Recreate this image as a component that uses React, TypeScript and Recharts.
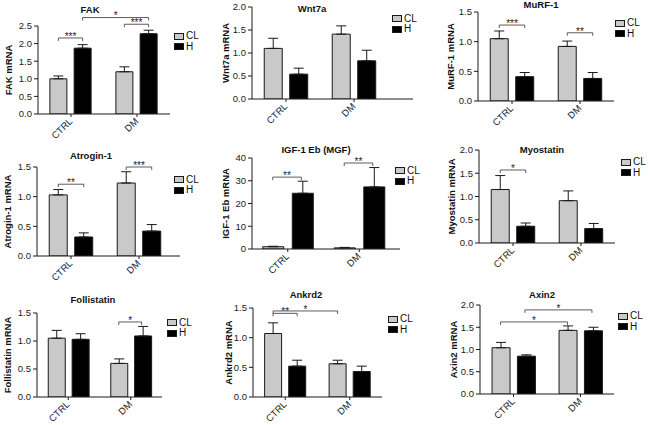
import React from 'react';
import { BarChart, Bar, XAxis, YAxis, ErrorBar, ReferenceLine, Legend } from 'recharts';

// ---------- data ----------
const categories = ['CTRL', 'DM'];

const fakCL = [1.0, 1.2];
const fakCLErr = [0.08, 0.14];
const fakH = [1.87, 2.28];
const fakHErr = [0.1, 0.1];
const fakTicks = [0, 0.5, 1.0, 1.5, 2.0, 2.5];

const wntCL = [1.1, 1.41];
const wntCLErr = [0.22, 0.18];
const wntH = [0.54, 0.83];
const wntHErr = [0.13, 0.23];
const wntTicks = [0, 0.5, 1.0, 1.5, 2.0];

const murfCL = [1.05, 0.92];
const murfCLErr = [0.13, 0.09];
const murfH = [0.41, 0.38];
const murfHErr = [0.07, 0.1];
const murfTicks = [0, 0.5, 1.0, 1.5];

const atroCL = [1.03, 1.23];
const atroCLErr = [0.09, 0.19];
const atroH = [0.32, 0.42];
const atroHErr = [0.07, 0.11];
const atroTicks = [0, 0.5, 1.0, 1.5];

const igfCL = [1.0, 0.5];
const igfCLErr = [0.2, 0.2];
const igfH = [24.5, 27.3];
const igfHErr = [5.3, 8.5];
const igfTicks = [0, 10, 20, 30, 40];

const myoCL = [1.15, 0.91];
const myoCLErr = [0.3, 0.21];
const myoH = [0.36, 0.31];
const myoHErr = [0.07, 0.11];
const myoTicks = [0, 0.5, 1.0, 1.5, 2.0];

const folCL = [1.05, 0.6];
const folCLErr = [0.14, 0.08];
const folH = [1.03, 1.09];
const folHErr = [0.1, 0.17];
const folTicks = [0, 0.5, 1.0, 1.5];

const ankCL = [1.07, 0.56];
const ankCLErr = [0.18, 0.06];
const ankH = [0.52, 0.43];
const ankHErr = [0.1, 0.09];
const ankTicks = [0, 0.5, 1.0, 1.5];

const axCL = [1.04, 1.43];
const axCLErr = [0.12, 0.1];
const axH = [0.85, 1.42];
const axHErr = [0.03, 0.08];
const axTicks = [0, 0.5, 1.0, 1.5, 2.0];

// significance brackets: [category, series(0=CL,1=H)] -> [category, series], level, label
const fakSig = [
  { a: [0, 0], b: [0, 1], y: 2.16, label: '***' },
  { a: [1, 0], b: [1, 1], y: 2.55, label: '***' },
  { a: [0, 1], b: [1, 1], y: 2.74, label: '*' },
];
const murfSig = [
  { a: [0, 0], b: [0, 1], y: 1.28, label: '***' },
  { a: [1, 0], b: [1, 1], y: 1.15, label: '**' },
];
const atroSig = [
  { a: [0, 0], b: [0, 1], y: 1.21, label: '**' },
  { a: [1, 0], b: [1, 1], y: 1.5, label: '***' },
];
const igfSig = [
  { a: [0, 0], b: [0, 1], y: 31.6, label: '**' },
  { a: [1, 0], b: [1, 1], y: 37.8, label: '**' },
];
const myoSig = [{ a: [0, 0], b: [0, 1], y: 1.57, label: '*' }];
const folSig = [{ a: [1, 0], b: [1, 1], y: 1.34, label: '*' }];
const ankSig = [
  { a: [0, 0], b: [0, 1], y: 1.41, label: '**' },
  { a: [0, 0], b: [1, 0], y: 1.45, label: '*' },
];
const axSig = [
  { a: [0, 0], b: [1, 0], y: 1.62, label: '*' },
  { a: [0, 1], b: [1, 1], y: 1.89, label: '*' },
];

// ---------- styles ----------
const FONT = '"Liberation Sans", Arial, sans-serif';
const CL_FILL = '#c9c9c9';
const H_FILL = '#000000';
const EDGE = '#1a1a1a';
const YW = 40, TOPM = 26, XH = 34, RM = 50;

const CatTick = (props: any) => {
  const { x, y, payload } = props;
  const ax = x + 2;
  const ay = y + 3;
  return (
    <text x={ax} y={ay} transform={`rotate(-45 ${ax} ${ay})`} textAnchor="end" fontFamily={FONT} fontSize={9.5} fill="#222">
      {payload.value}
    </text>
  );
};

const YLabel = (props: any) => {
  const { text, dist, plotH } = props;
  const cx = YW - dist + 3.5;
  const cy = TOPM + plotH / 2;
  return (
    <text x={cx} y={cy} transform={`rotate(-90 ${cx} ${cy})`} textAnchor="middle" fontFamily={FONT} fontWeight="bold" fontSize={9.5} fill="#111">
      {text}
    </text>
  );
};

const LegendContent = (props: any) => {
  const items = props.payload || [];
  return (
    <div style={{ fontFamily: FONT, fontSize: 10, color: '#111' }}>
      {items.map((e: any) => (
        <div key={e.value} style={{ display: 'flex', alignItems: 'center', height: 10.5, lineHeight: '10px' }}>
          <span style={{ display: 'inline-block', width: 8, height: 5, background: e.color, border: `1px solid ${EDGE}`, marginRight: 2 }} />
          <span>{e.value}</span>
        </div>
      ))}
    </div>
  );
};

const Panel = (props: any) => {
  const { title, yLabel, cl, clErr, h, hErr, ticks, sig, layout: L } = props;
  const cg = L.cg ?? 0.18;
  const gap = L.gap ?? 0.11;
  const padRight = L.padRight ?? 0;
  const chartLeft = L.plotLeft - YW;
  const chartTop = L.plotTop - TOPM;
  const width = L.plotRight - chartLeft + RM;
  const height = L.plotBottom - chartTop + XH;
  const plotH = L.plotBottom - L.plotTop;
  const data = categories.map((c, i) => ({
    cat: c,
    cl: cl[i],
    h: h[i],
    clE: [0, clErr[i]],
    hE: [0, hErr[i]],
  }));
  const top = ticks[ticks.length - 1];
  const tickDrop = 3;
  // bar centre offset from band centre, following the grouped-bar layout
  const barOffset = (band: number, si: number) => {
    const off = band * cg;
    const g = band * gap;
    let size = (band - 2 * off - g) / 2;
    if (size > 1) size = Math.floor(size);
    const c0 = off + size / 2 - band / 2;
    const c1 = off + size + g + size / 2 - band / 2;
    return si === 0 ? c0 : c1;
  };
  return (
    <>
      <div style={{ position: 'absolute', left: L.titleX, top: L.titleY, transform: 'translate(-50%, -50%)', fontFamily: FONT, fontWeight: 'bold', fontSize: 9.5, lineHeight: '10px', whiteSpace: 'nowrap', color: '#111' }}>
        {title}
      </div>
      <div style={{ position: 'absolute', left: chartLeft, top: chartTop }}>
        <BarChart
          width={width}
          height={height}
          data={data}
          margin={{ top: TOPM, right: RM, bottom: 0, left: 0 }}
          barCategoryGap={`${cg * 100}%`}
          barGap={`${gap * 100}%`}
        >
          <XAxis
            dataKey="cat"
            height={XH}
            interval={0}
            padding={{ left: 0, right: padRight }}
            tick={<CatTick />}
            tickSize={3}
            tickMargin={2}
            axisLine={{ stroke: EDGE, strokeWidth: 1 }}
            tickLine={{ stroke: EDGE, strokeWidth: 1 }}
          />
          <YAxis
            width={YW}
            domain={[0, top]}
            ticks={ticks}
            interval={0}
            allowDataOverflow
            tickFormatter={(v: number) => v.toFixed(L.decimals)}
            tick={{ fontFamily: FONT, fontSize: 9.5, fill: '#222' }}
            tickSize={4}
            tickMargin={2}
            axisLine={{ stroke: EDGE, strokeWidth: 1 }}
            tickLine={{ stroke: EDGE, strokeWidth: 1 }}
            label={<YLabel text={yLabel} dist={L.labelDist} plotH={plotH} />}
          />
          <Bar dataKey="cl" name="CL" fill={CL_FILL} stroke={EDGE} strokeWidth={1} isAnimationActive={false}>
            <ErrorBar dataKey="clE" width={5} stroke={EDGE} strokeWidth={1} direction="y" />
          </Bar>
          <Bar dataKey="h" name="H" fill={H_FILL} stroke={EDGE} strokeWidth={1} isAnimationActive={false}>
            <ErrorBar dataKey="hE" width={5} stroke={EDGE} strokeWidth={1} direction="y" />
          </Bar>
          {sig.map((b: any, i: number) => (
            <ReferenceLine
              key={i}
              ifOverflow="visible"
              segment={[{ x: categories[0], y: b.y }, { x: categories[1], y: b.y }]}
              shape={(p: any) => {
                const c0 = p.x1, c1 = p.x2, y = p.y1;
                const band = c1 - c0;
                const centres = [c0, c1];
                const xa = centres[b.a[0]] + barOffset(band, b.a[1]);
                const xb = centres[b.b[0]] + barOffset(band, b.b[1]);
                return (
                  <g>
                    <path d={`M${xa},${y + tickDrop}L${xa},${y}L${xb},${y}L${xb},${y + tickDrop}`} stroke="#4a4a4a" strokeWidth={0.9} fill="none" />
                    <text x={(xa + xb) / 2} y={y + 1.8} textAnchor="middle" fontFamily={FONT} fontSize={10} fill="#222">{b.label}</text>
                  </g>
                );
              }}
            />
          ))}
          <Legend
            layout="vertical"
            align="center"
            verticalAlign="middle"
            wrapperStyle={{ left: L.legendX - chartLeft, top: L.legendY - chartTop - 5, width: 'auto', height: 'auto' }}
            content={<LegendContent />}
          />
        </BarChart>
      </div>
    </>
  );
};

const panels = [
  { title: 'FAK', yLabel: 'FAK mRNA', cl: fakCL, clErr: fakCLErr, h: fakH, hErr: fakHErr, ticks: fakTicks, sig: fakSig,
    layout: { plotLeft: 38, plotRight: 170, plotTop: 26, plotBottom: 114, legendX: 174, legendY: 36, titleX: 90, titleY: 10, labelDist: 30, decimals: 1 } },
  { title: 'Wnt7a', yLabel: 'Wnt7a mRNA', cl: wntCL, clErr: wntCLErr, h: wntH, hErr: wntHErr, ticks: wntTicks, sig: [],
    layout: { plotLeft: 252, plotRight: 413, padRight: 25, plotTop: 7, plotBottom: 99, legendX: 392, legendY: 18.5, titleX: 312, titleY: 9, labelDist: 27, decimals: 1 } },
  { title: 'MuRF-1', yLabel: 'MuRF-1 mRNA', cl: murfCL, clErr: murfCLErr, h: murfH, hErr: murfHErr, ticks: murfTicks, sig: murfSig,
    layout: { plotLeft: 478, plotRight: 614, plotTop: 12, plotBottom: 101, legendX: 615, legendY: 23, titleX: 541, titleY: 4.5, labelDist: 28, decimals: 1 } },
  { title: 'Atrogin-1', yLabel: 'Atrogin-1 mRNA', cl: atroCL, clErr: atroCLErr, h: atroH, hErr: atroHErr, ticks: atroTicks, sig: atroSig,
    layout: { plotLeft: 37, plotRight: 180, padRight: 7, plotTop: 167, plotBottom: 256, legendX: 174, legendY: 179.5, titleX: 91, titleY: 155.5, labelDist: 30, decimals: 1 } },
  { title: 'IGF-1 Eb (MGF)', yLabel: 'IGF-1 Eb mRNA', cl: igfCL, clErr: igfCLErr, h: igfH, hErr: igfHErr, ticks: igfTicks, sig: igfSig,
    layout: { plotLeft: 252, plotRight: 400, padRight: 5, plotTop: 158, plotBottom: 249, legendX: 395, legendY: 170.5, titleX: 316, titleY: 150, labelDist: 27, decimals: 0, cg: 0.15, gap: 0.12 } },
  { title: 'Myostatin', yLabel: 'Myostatin mRNA', cl: myoCL, clErr: myoCLErr, h: myoH, hErr: myoHErr, ticks: myoTicks, sig: myoSig,
    layout: { plotLeft: 479, plotRight: 615, plotTop: 150, plotBottom: 243, legendX: 621, legendY: 162, titleX: 542, titleY: 150, labelDist: 28, decimals: 1 } },
  { title: 'Follistatin', yLabel: 'Follistatin mRNA', cl: folCL, clErr: folCLErr, h: folH, hErr: folHErr, ticks: folTicks, sig: folSig,
    layout: { plotLeft: 37, plotRight: 162, plotTop: 313, plotBottom: 397, legendX: 167, legendY: 322.5, titleX: 93, titleY: 300, labelDist: 30, decimals: 1 } },
  { title: 'Ankrd2', yLabel: 'Ankrd2 mRNA', cl: ankCL, clErr: ankCLErr, h: ankH, hErr: ankHErr, ticks: ankTicks, sig: ankSig,
    layout: { plotLeft: 253, plotRight: 382, plotTop: 308, plotBottom: 397, legendX: 388, legendY: 319, titleX: 306, titleY: 294.5, labelDist: 25, decimals: 1 } },
  { title: 'Axin2', yLabel: 'Axin2 mRNA', cl: axCL, clErr: axCLErr, h: axH, hErr: axHErr, ticks: axTicks, sig: axSig,
    layout: { plotLeft: 480, plotRight: 614, plotTop: 305, plotBottom: 394, legendX: 618, legendY: 316, titleX: 542, titleY: 294.5, labelDist: 27, decimals: 1 } },
];

export default function App() {
  return (
    <div style={{ position: 'absolute', left: 0, top: 0, width: 650, height: 425, background: '#fff', overflow: 'hidden' }}>
      {panels.map((p) => (
        <Panel key={p.title} {...p} />
      ))}
    </div>
  );
}
